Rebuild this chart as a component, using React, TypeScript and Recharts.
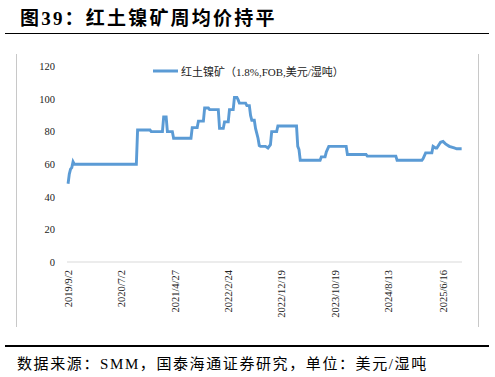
import React from 'react';
import { LineChart, Line, XAxis, YAxis, Legend } from 'recharts';

// weekly laterite nickel ore price, change points
const weekDates = [
  '2019/9/2', '2019/9/9', '2019/9/16', '2019/9/23', '2019/9/30', '2019/10/7',
  '2020/9/21', '2020/9/28', '2020/12/7', '2020/12/14', '2021/2/15', '2021/2/22',
  '2021/3/8', '2021/3/15', '2021/4/12', '2021/4/19', '2021/7/26', '2021/8/2',
  '2021/8/30', '2021/9/6', '2021/10/4', '2021/10/11', '2021/11/1', '2021/11/8',
  '2021/12/27', '2022/1/3', '2022/1/24', '2022/1/31', '2022/2/21', '2022/2/28',
  '2022/3/21', '2022/3/28', '2022/4/11', '2022/4/18', '2022/4/25', '2022/5/30',
  '2022/6/6', '2022/6/20', '2022/6/27', '2022/7/4', '2022/7/18', '2022/7/25',
  '2022/8/8', '2022/8/15', '2022/8/22', '2022/9/19', '2022/10/3', '2022/10/17',
  '2022/10/24', '2022/11/21', '2022/11/28', '2023/3/13', '2023/3/20', '2023/3/27',
  '2023/4/3', '2023/7/24', '2023/7/31', '2023/8/21', '2023/8/28', '2023/9/11',
  '2023/12/18', '2023/12/25', '2024/4/8', '2024/4/15', '2024/9/23', '2024/9/30',
  '2025/2/17', '2025/2/24', '2025/3/10', '2025/3/17', '2025/4/14', '2025/4/21',
  '2025/5/5', '2025/5/12', '2025/6/2', '2025/6/16', '2025/6/30', '2025/7/21',
  '2025/8/18', '2025/9/1', '2025/9/29',
];

const nickelOrePrice = [
  48, 54, 57, 58, 61.5, 60,
  60, 81, 81, 80, 80, 89,
  89, 80, 80, 76, 76, 82.5,
  82.5, 86.5, 86.5, 94.5, 94.5, 93.5,
  93.5, 82, 82, 86, 86, 93.5,
  93.5, 101, 101, 99.5, 97.5, 97.5,
  96, 96, 90, 87, 87, 82,
  76, 71.5, 71, 71, 70, 72,
  80, 80, 83.5, 83.5, 71, 69,
  62.5, 62.5, 64.5, 64.5, 67.5, 71,
  71, 66, 66, 65, 65, 62.5,
  62.5, 63.5, 67, 67, 67, 71,
  70, 70, 73.5, 74, 72.5, 71,
  70, 69.5, 69.5,
];

const tickDates = [
  '2019/9/2', '2020/7/2', '2021/4/27', '2022/2/24',
  '2022/12/19', '2023/10/19', '2024/8/13', '2025/6/16',
];

const yTicks = [0, 20, 40, 60, 80, 100, 120];

const toTime = (s: string) => {
  const [y, m, d] = s.split('/').map(Number);
  return Date.UTC(y, m - 1, d);
};

const fmtDate = (t: number) => {
  const d = new Date(t);
  return `${d.getUTCFullYear()}/${d.getUTCMonth() + 1}/${d.getUTCDate()}`;
};

const chartData = weekDates.map((d, i) => ({ t: toTime(d), price: nickelOrePrice[i] }));
const xTicks = tickDates.map(toTime);

const SERIF = '"Liberation Serif", "Noto Sans CJK SC", serif';
const LINE_COLOR = '#5b9bd5';

const RotatedTick = (props: any) => {
  const { x, y, payload } = props;
  return (
    <text
      x={x}
      y={y}
      transform={`rotate(-90, ${x}, ${y})`}
      textAnchor="end"
      dominantBaseline="central"
      fontSize={10.5}
      fontFamily={SERIF}
      fill="#222"
    >
      {fmtDate(payload.value)}
    </text>
  );
};

const LegendBox = () => (
  <div style={{ display: 'flex', alignItems: 'center', whiteSpace: 'nowrap' }}>
    <svg width={28} height={8}>
      <line x1={0} y1={4} x2={25} y2={4} stroke={LINE_COLOR} strokeWidth={3} />
    </svg>
    <span style={{ fontSize: 11, fontFamily: SERIF, color: '#222' }}>
      红土镍矿（1.8%,FOB,美元/湿吨）
    </span>
  </div>
);

export default function App() {
  return (
    <div
      style={{
        position: 'absolute',
        left: 0,
        top: 0,
        width: 495,
        height: 377,
        background: '#fff',
        fontFamily: SERIF,
        overflow: 'hidden',
      }}
    >
      <div
        style={{
          position: 'absolute',
          left: 20,
          top: 3,
          fontSize: 19,
          fontWeight: 'bold',
          letterSpacing: 2.2,
          color: '#000',
          whiteSpace: 'nowrap',
        }}
      >
        图39：红土镍矿周均价持平
      </div>
      <div style={{ position: 'absolute', left: 5, top: 32.5, width: 484, height: 1.5, background: '#000' }} />
      <div style={{ position: 'absolute', left: 16, top: 54, width: 1, height: 273, background: '#c8c8c8' }} />
      <div style={{ position: 'absolute', left: 478, top: 54, width: 1, height: 273, background: '#c8c8c8' }} />

      <div style={{ position: 'absolute', left: 0, top: 0 }}>
        <LineChart
          width={495}
          height={377}
          data={chartData}
          margin={{ top: 66.5, right: 33, bottom: 55, left: 0 }}
        >
          <XAxis
            dataKey="t"
            type="number"
            scale="time"
            domain={[toTime('2019/8/27'), toTime('2025/10/1')]}
            ticks={xTicks}
            tick={<RotatedTick />}
            tickLine={false}
            tickSize={6}
            tickMargin={2}
            axisLine={{ stroke: '#d9d9d9', strokeWidth: 1 }}
            height={60}
            interval={0}
          />
          <YAxis
            domain={[0, 120]}
            ticks={yTicks}
            width={67}
            axisLine={false}
            tickLine={false}
            tickSize={6}
            tickMargin={6}
            tick={{ fontSize: 10.5, fontFamily: SERIF, fill: '#222' }}
          />
          <Legend
            verticalAlign="middle"
            align="center"
            wrapperStyle={{ top: 63, left: 153, width: 'auto' }}
            content={() => <LegendBox />}
          />
          <Line
            type="linear"
            dataKey="price"
            stroke={LINE_COLOR}
            strokeWidth={2.9}
            dot={false}
            activeDot={false}
            isAnimationActive={false}
          />
        </LineChart>
      </div>

      <div style={{ position: 'absolute', left: 5, top: 345, width: 484, height: 1.5, background: '#000' }} />
      <div
        style={{
          position: 'absolute',
          left: 17,
          top: 352,
          fontSize: 15,
          letterSpacing: 1.6,
          color: '#000',
          whiteSpace: 'nowrap',
        }}
      >
        数据来源：SMM，国泰海通证券研究，单位：美元/湿吨
      </div>
    </div>
  );
}
